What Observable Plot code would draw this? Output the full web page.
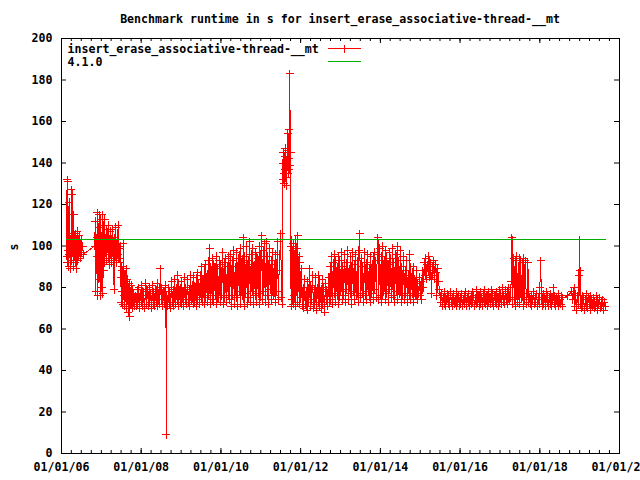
<!DOCTYPE html>
<html><head><meta charset="utf-8">
<script src="https://cdn.jsdelivr.net/npm/d3@7"></script>
<script src="https://cdn.jsdelivr.net/npm/@observablehq/plot@0.6"></script>
<style>
html,body{margin:0;padding:0;background:#fff;overflow:hidden;}
svg text{font-family:"DejaVu Sans Mono",monospace;font-weight:bold;}
</style></head><body><div id="chart"></div>
<script>
const titleText = "Benchmark runtime in s for insert_erase_associative-thread-__mt";
const seriesLabel = "insert_erase_associative-thread-__mt";
const refLabel = "4.1.0";
const yLabel = "s";
const refSeconds = 103.2;
const xTickYears = [2006, 2008, 2010, 2012, 2014, 2016, 2018, 2020];
const yTicks = [0, 20, 40, 60, 80, 100, 120, 140, 160, 180, 200];

// run dates as decimal years
const runYears = [
// 2006 first cluster
2006.13,2006.14,2006.15,2006.16,2006.17,2006.18,2006.19,2006.20,2006.21,2006.22,
2006.23,2006.24,2006.25,2006.26,2006.27,2006.28,2006.29,2006.30,2006.31,2006.32,
2006.33,2006.34,2006.35,2006.36,2006.37,2006.38,2006.39,2006.40,2006.41,2006.42,
2006.43,2006.44,2006.45,2006.47,2006.49,2006.51,2006.53,2006.55,
// late 2006 - mid 2007
2006.83,2006.85,2006.86,2006.88,2006.89,2006.90,2006.91,2006.93,2006.94,2006.95,
2006.96,2006.97,2006.98,2006.99,2007.00,2007.01,2007.02,2007.03,2007.04,2007.05,
2007.06,2007.07,2007.08,2007.09,2007.10,2007.11,2007.12,2007.13,2007.14,2007.15,
2007.17,2007.18,2007.19,2007.20,2007.22,2007.23,2007.24,2007.26,2007.27,2007.28,
2007.30,2007.31,2007.32,2007.33,2007.35,2007.36,2007.38,2007.39,2007.41,2007.42,
2007.44,2007.45,2007.47,
// mid 2007 drop
2007.48,2007.49,2007.50,2007.51,2007.52,2007.53,2007.54,2007.55,2007.56,2007.57,
2007.58,2007.60,2007.61,2007.62,2007.63,2007.65,2007.66,2007.67,2007.68,2007.70,
2007.71,2007.72,2007.74,2007.75,2007.77,2007.78,2007.80,2007.82,2007.84,
// 2008 - 2010
2007.86,2007.88,2007.90,2007.92,2007.94,2007.96,2007.98,2008.00,2008.02,2008.04,
2008.06,2008.08,2008.10,2008.12,2008.14,2008.16,2008.18,2008.20,2008.22,2008.24,
2008.26,2008.28,2008.30,2008.32,2008.34,2008.36,2008.38,2008.40,2008.42,2008.44,
2008.46,2008.48,2008.50,2008.52,2008.54,2008.56,2008.58,2008.60,2008.62,2008.63,
2008.64,2008.66,2008.68,2008.70,2008.72,2008.74,2008.76,2008.78,2008.80,2008.82,
2008.84,2008.86,2008.88,2008.90,2008.92,2008.94,2008.96,2008.98,2009.00,2009.02,
2009.04,2009.06,2009.08,2009.10,2009.12,2009.14,2009.16,2009.18,2009.20,2009.22,
2009.24,2009.26,2009.28,2009.30,2009.32,2009.34,2009.36,2009.38,2009.40,2009.42,
2009.44,2009.46,2009.48,2009.50,2009.52,2009.54,2009.56,2009.58,2009.60,2009.62,
2009.64,2009.66,2009.68,2009.70,2009.72,2009.74,2009.76,2009.78,2009.80,2009.82,
2009.84,2009.86,2009.88,2009.90,2009.92,2009.94,2009.96,2009.98,2010.00,2010.02,
2010.04,2010.06,2010.08,2010.10,2010.12,2010.14,2010.16,2010.18,2010.20,
// 2010 - mid 2011
2010.22,2010.24,2010.26,2010.28,2010.30,2010.32,2010.34,2010.36,2010.38,2010.40,
2010.42,2010.44,2010.46,2010.48,2010.50,2010.52,2010.54,2010.56,2010.58,2010.60,
2010.62,2010.64,2010.66,2010.68,2010.70,2010.72,2010.74,2010.76,2010.78,2010.80,
2010.82,2010.84,2010.86,2010.88,2010.90,2010.92,2010.94,2010.96,2010.98,2011.00,
2011.02,2011.04,2011.06,2011.08,2011.10,2011.12,2011.14,2011.16,2011.18,2011.20,
2011.22,2011.24,2011.26,2011.28,2011.30,2011.32,2011.34,2011.36,2011.38,2011.40,
2011.42,2011.44,2011.46,
// 2011 spike
2011.50,2011.52,2011.54,2011.55,2011.56,2011.57,2011.58,2011.59,2011.60,2011.61,
2011.62,2011.63,2011.64,2011.65,2011.66,2011.67,2011.68,2011.69,2011.70,2011.71,
2011.72,2011.73,2011.74,2011.75,2011.76,2011.77,
// late 2011
2011.78,2011.79,2011.80,2011.81,2011.82,2011.84,2011.85,2011.86,2011.88,2011.89,
2011.90,2011.92,2011.93,2011.94,2011.96,2011.97,2011.98,2012.00,2012.02,2012.04,
// 2012
2012.06,2012.08,2012.10,2012.12,2012.14,2012.16,2012.18,2012.20,2012.22,2012.24,
2012.26,2012.28,2012.30,2012.32,2012.34,2012.36,2012.38,2012.40,2012.42,2012.44,
2012.46,2012.48,2012.50,2012.52,2012.54,2012.56,2012.58,2012.60,2012.62,2012.64,
2012.66,2012.68,2012.70,2012.72,
// late 2012 - 2013
2012.74,2012.76,2012.78,2012.80,2012.82,2012.84,2012.86,2012.88,2012.90,2012.92,
2012.94,2012.96,2012.98,2013.00,2013.02,2013.04,2013.06,2013.08,2013.10,2013.12,
2013.14,2013.16,2013.18,2013.20,2013.22,2013.24,2013.26,2013.28,2013.30,2013.32,
2013.34,2013.36,2013.38,2013.40,2013.42,2013.44,2013.46,2013.48,2013.50,2013.52,
2013.54,2013.56,2013.58,2013.60,2013.62,2013.64,2013.66,2013.68,2013.70,2013.72,
2013.74,2013.76,2013.78,2013.80,2013.82,2013.84,2013.86,2013.88,2013.90,
// 2014
2013.92,2013.94,2013.96,2013.98,2014.00,2014.02,2014.04,2014.06,2014.08,2014.10,
2014.12,2014.14,2014.16,2014.18,2014.20,2014.22,2014.24,2014.26,2014.28,2014.30,
2014.32,2014.34,2014.36,2014.38,2014.40,2014.42,2014.44,2014.46,2014.48,2014.50,
2014.52,2014.54,2014.56,2014.58,2014.60,2014.62,2014.64,2014.66,2014.68,2014.70,
2014.72,2014.74,2014.76,2014.78,2014.80,2014.82,2014.84,2014.86,2014.88,2014.90,
2014.92,2014.94,2014.96,2014.98,
// 2015 bump
2015.00,2015.02,2015.04,2015.06,2015.08,2015.10,2015.12,2015.14,2015.16,2015.18,
2015.20,2015.22,2015.24,2015.26,2015.28,2015.30,2015.32,2015.34,2015.36,2015.38,
2015.40,2015.42,2015.44,2015.46,2015.48,2015.50,
// mid 2015 - early 2017
2015.52,2015.54,2015.56,2015.58,2015.60,2015.62,2015.64,2015.66,2015.68,2015.70,
2015.72,2015.74,2015.76,2015.78,2015.80,2015.82,2015.84,2015.86,2015.88,2015.90,
2015.92,2015.94,2015.96,2015.98,2016.00,2016.02,2016.04,2016.06,2016.08,2016.10,
2016.12,2016.14,2016.16,2016.18,2016.20,2016.22,2016.24,2016.26,2016.28,2016.30,
2016.32,2016.34,2016.36,2016.38,2016.40,2016.42,2016.44,2016.46,2016.48,2016.50,
2016.52,2016.54,2016.56,2016.58,2016.60,2016.62,2016.64,2016.66,2016.68,2016.70,
2016.72,2016.74,2016.76,2016.78,2016.80,2016.82,2016.84,2016.86,2016.88,2016.90,
2016.92,2016.94,2016.96,2016.98,2017.00,2017.02,2017.04,2017.06,2017.08,2017.10,
2017.12,2017.14,2017.16,2017.18,2017.20,2017.22,2017.24,
// 2017 spikes
2017.26,2017.28,2017.30,2017.31,2017.32,2017.34,2017.36,2017.38,2017.40,2017.42,
2017.44,2017.46,2017.48,2017.50,2017.52,2017.54,2017.56,2017.58,2017.60,2017.62,
2017.64,2017.66,2017.68,2017.70,2017.72,2017.74,2017.76,2017.78,2017.80,2017.82,
2017.84,2017.86,2017.88,
// 2018
2017.90,2017.92,2017.94,2017.96,2017.98,2018.00,2018.02,2018.04,2018.06,2018.08,
2018.10,2018.12,2018.14,2018.16,2018.18,2018.20,2018.22,2018.24,2018.26,2018.28,
2018.30,2018.32,2018.34,2018.36,2018.38,2018.40,2018.42,2018.44,2018.46,2018.48,
2018.50,2018.52,2018.54,2018.56,2018.58,
2018.70,
// late 2018 - 2019
2018.80,2018.83,2018.86,2018.88,2018.90,2018.92,2018.94,2018.96,2018.98,2019.00,
2019.01,2019.02,2019.04,2019.06,2019.08,2019.10,2019.12,2019.14,2019.16,2019.18,
2019.20,2019.22,2019.24,2019.26,2019.28,2019.30,2019.32,2019.34,2019.36,2019.38,
2019.40,2019.42,2019.44,2019.46,2019.48,2019.50,2019.52,2019.54,2019.56,2019.58,
2019.60,2019.62,2019.64
];

// runtime in seconds
const runSeconds = [
95,132,92,131,98,90,121,96,104,89,
100,106,127,93,125,97,102,90,115,95,
104,92,106,98,89,103,96,107,93,101,
95,105,98,94,103,97,100,96,
100,112,78,104,95,116,76,109,84,115,
98,76,113,90,105,80,115,95,77,110,
88,102,113,92,104,97,108,93,105,99,
110,94,103,91,107,96,100,92,108,97,
102,93,79,104,95,109,92,101,96,110,
94,99,92,
100,85,73,90,78,88,72,101,76,86,
71,83,75,89,70,84,74,80,68,82,
66,78,72,81,70,79,73,77,71,
76,71,79,72,80,70,77,73,81,71,
78,70,76,82,72,79,71,80,73,77,
70,81,72,78,71,79,73,82,71,77,
72,89,74,80,71,78,72,81,73,9,
76,71,80,72,78,70,83,73,79,71,
84,72,80,74,86,71,79,73,83,72,
78,71,85,74,80,72,84,73,79,71,
86,74,81,72,85,73,80,71,87,74,
82,72,86,75,90,73,84,72,91,75,
85,73,93,76,99,72,88,74,94,73,
90,76,95,72,89,75,93,73,91,76,
97,72,92,75,94,73,90,76,95,
74,96,71,93,76,98,72,90,75,97,
71,94,78,99,72,92,76,104,71,95,
77,100,72,93,75,102,73,96,78,99,
72,91,76,97,73,94,77,100,72,95,
105,74,98,78,101,73,102,76,95,72,
99,79,93,74,97,76,91,73,96,78,
102,74,88,
106,75,72,140,132,145,135,130,143,137,
147,133,141,129,146,138,154,135,142,156,
137,183,139,145,71,100,
103,74,98,72,101,76,96,71,103,78,
99,73,105,80,95,72,92,75,89,71,
80,70,84,72,78,69,83,73,89,71,
81,74,86,70,79,72,85,69,80,73,
86,71,78,70,84,72,80,68,82,74,
79,71,85,73,
90,74,95,72,92,77,96,73,88,76,
95,72,93,78,97,74,90,76,96,73,
92,79,98,74,89,77,95,72,97,78,
91,74,96,76,93,73,98,106,75,94,
77,90,73,97,76,92,74,96,78,89,
73,95,77,91,74,97,79,93,75,
96,104,74,99,76,95,73,100,78,93,
74,98,77,91,73,97,79,94,75,99,
76,92,73,96,78,100,74,93,77,98,
73,90,76,95,74,88,77,93,73,86,
76,96,74,85,77,90,73,84,76,88,
74,82,77,85,
76,83,74,88,80,92,86,94,84,91,
88,95,85,92,77,90,86,93,84,91,
87,76,89,83,79,76,
73,77,71,75,72,78,71,74,77,72,
76,71,78,73,75,71,77,72,74,71,
78,73,76,71,75,72,77,71,74,76,
72,78,71,75,73,77,71,74,72,78,
73,76,71,75,72,79,73,76,71,78,
72,75,71,77,73,79,72,76,71,78,
73,75,72,79,73,77,71,76,73,78,
72,75,71,79,73,77,72,80,73,76,
72,79,74,78,72,80,74,
75,83,104,103,72,94,74,93,71,95,
73,76,94,72,93,75,92,71,94,74,
93,72,77,92,73,75,72,76,71,74,
78,72,75,
73,77,71,75,72,80,93,74,71,77,
72,75,71,78,73,76,71,75,72,77,
71,74,80,72,76,71,75,73,77,71,
74,72,76,71,75,
76,
78,74,80,71,77,69,76,72,86,103,
72,88,70,76,71,75,69,74,71,77,
70,75,72,76,69,74,71,75,70,73,
71,76,69,74,72,75,70,73,71,74,
69,73,71
];

if (runYears.length !== runSeconds.length) console.error("length mismatch", runYears.length, runSeconds.length);

function yearToDate(y) {
  const yr = Math.floor(y + 1e-9);
  const s = Date.UTC(yr, 0, 1), e = Date.UTC(yr + 1, 0, 1);
  return new Date(s + (y - yr) * (e - s));
}
const runs = runYears.map((t, i) => ({date: yearToDate(t), value: runSeconds[i]}));
const refRows = [
  {date: runs[0].date, value: refSeconds},
  {date: runs[runs.length - 1].date, value: refSeconds}
];
const xTicks = xTickYears.map(y => new Date(Date.UTC(y, 0, 1)));
const xMinor = d3.utcMonth.every(3).range(xTicks[0], d3.utcDay.offset(xTicks[xTicks.length - 1], 1));

const W = 640, H = 480, mL = 61, mR = 21, mT = 38, mB = 27;
const plotW = W - mL - mR, plotH = H - mT - mB;
const RED = "#ff0000", GREEN = "#00b000";

const plusSymbol = {
  draw(ctx, size) {
    const h = Math.sqrt(size / Math.PI);
    ctx.moveTo(-h, 0); ctx.lineTo(h, 0);
    ctx.moveTo(0, -h); ctx.lineTo(0, h);
  }
};

const chart = Plot.plot({
  width: W, height: H,
  marginLeft: mL, marginRight: mR, marginTop: mT, marginBottom: mB,
  style: {fontFamily: '"DejaVu Sans Mono", monospace', fontSize: "11.6px", fontWeight: "bold", background: "white", color: "black"},
  x: {type: "utc", domain: [xTicks[0], xTicks[xTicks.length - 1]]},
  y: {domain: [0, 200]},
  marks: [
    Plot.line(runs, {x: "date", y: "value", stroke: RED, strokeWidth: 1, shapeRendering: "crispEdges"}),
    Plot.dot(runs, {x: "date", y: "value", symbol: plusSymbol, r: 4, stroke: RED, fill: "none", strokeWidth: 1, shapeRendering: "crispEdges"}),
    Plot.line(refRows, {x: "date", y: "value", stroke: GREEN, strokeWidth: 1, shapeRendering: "crispEdges"}),
    Plot.tickX(xMinor, {stroke: "black", insetTop: plotH - 3}),
    Plot.tickX(xMinor, {stroke: "black", insetBottom: plotH - 3}),
    Plot.tickX(xTicks, {stroke: "black", insetTop: plotH - 5}),
    Plot.tickX(xTicks, {stroke: "black", insetBottom: plotH - 5}),
    Plot.tickY(yTicks, {stroke: "black", insetRight: plotW - 5}),
    Plot.tickY(yTicks, {stroke: "black", insetLeft: plotW - 5}),
    Plot.frame({stroke: "black"}),
    Plot.axisX({ticks: xTicks, tickFormat: d3.utcFormat("%m/%d/%y"), tickSize: 0, tickPadding: 9, label: null}),
    Plot.axisY({ticks: yTicks, tickSize: 0, tickPadding: 9, label: null})
  ]
});
document.getElementById("chart").appendChild(chart);

const svg = d3.select(chart);
const cx = mL + plotW / 2;
svg.append("text").attr("x", cx).attr("y", 23).attr("text-anchor", "middle").attr("fill", "black").text(titleText);
svg.append("text").attr("transform", "translate(17.5,247) rotate(-90)").attr("text-anchor", "middle").attr("fill", "black").text(yLabel);
// legend
const lg = svg.append("g").attr("text-anchor", "start");
lg.append("text").attr("x", 67.5).attr("y", 52.7).attr("text-anchor", "start").attr("fill", "black").text(seriesLabel);
lg.append("text").attr("x", 67.5).attr("y", 65.7).attr("text-anchor", "start").attr("fill", "black").text(refLabel);
lg.append("path").attr("d", "M328,48.5H361M344.5,44.5V52.5").attr("stroke", RED).attr("fill", "none").attr("shape-rendering", "crispEdges");
lg.append("path").attr("d", "M328,61.5H361").attr("stroke", GREEN).attr("fill", "none").attr("shape-rendering", "crispEdges");
</script>
</body></html>
